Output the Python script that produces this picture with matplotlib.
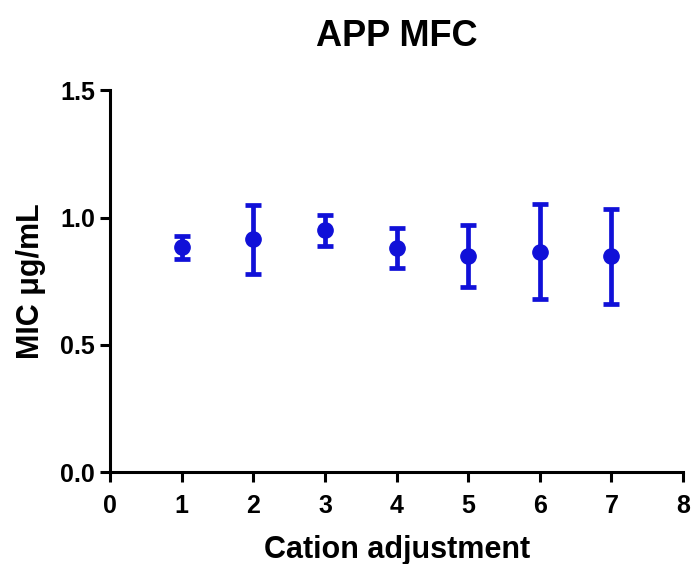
import matplotlib
matplotlib.use("Agg")
import matplotlib.pyplot as plt

plt.rcParams['font.family'] = ['Liberation Sans', 'DejaVu Sans']
plt.rcParams['font.weight'] = 'bold'

# data
cation = [1, 2, 3, 4, 5, 6, 7]
mic_mean = [0.883, 0.914, 0.950, 0.880, 0.848, 0.866, 0.848]
mic_err = [0.045, 0.135, 0.060, 0.077, 0.122, 0.187, 0.187]

blue = '#1010d8'

fig = plt.figure(figsize=(6.97, 5.64), dpi=100)
ax = fig.add_axes([0.158, 0.163, 0.822, 0.677])

ax.errorbar(cation, mic_mean, yerr=mic_err, fmt='o', color=blue,
            markersize=11, elinewidth=3.4, capsize=6, capthick=3.4)

ax.set_xlim(0, 8)
ax.set_ylim(0, 1.5)
ax.set_xticks(range(0, 9))
ax.set_yticks([0.0, 0.5, 1.0, 1.5])
ax.set_yticklabels(['0.0', '0.5', '1.0', '1.5'])

for side in ['top', 'right']:
    ax.spines[side].set_visible(False)
for side in ['left', 'bottom']:
    ax.spines[side].set_linewidth(2.2)
ax.tick_params(width=2.2, length=7, labelsize=18)
ax.tick_params(axis='x', pad=9)
ax.tick_params(axis='y', pad=4)

ax.set_xlabel('Cation adjustment', fontsize=22, fontweight='bold', labelpad=12)
ax.set_ylabel('MIC μg/mL', fontsize=22, fontweight='bold', labelpad=10)
ax.set_title('APP MFC', fontsize=26, fontweight='bold', pad=32)

fig.savefig('out.png', dpi=100)
